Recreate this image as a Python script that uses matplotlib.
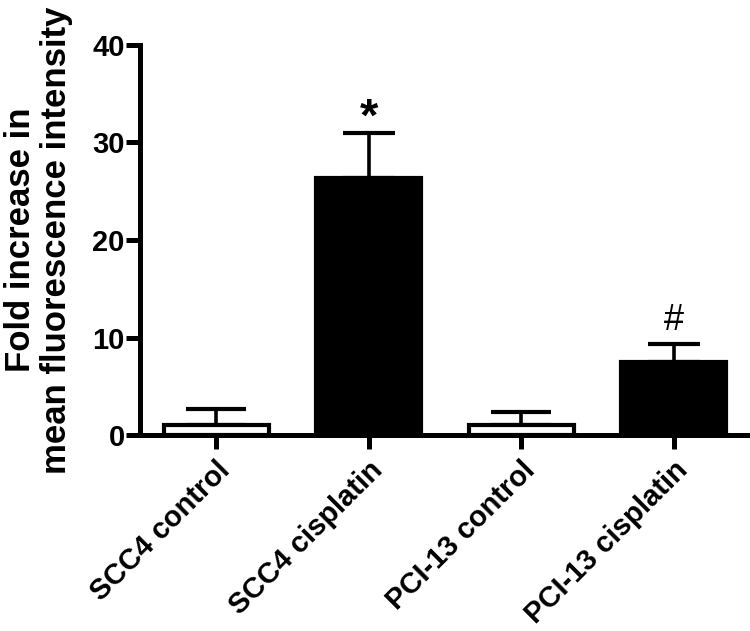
import numpy as np
import matplotlib.pyplot as plt
from matplotlib.transforms import ScaledTranslation

plt.rcParams["font.family"] = ["Liberation Sans", "DejaVu Sans"]

groups = ["SCC4 control", "SCC4 cisplatin", "PCI-13 control", "PCI-13 cisplatin"]
fold_increase = [1.0, 26.4, 1.0, 7.5]
sem_upper = [1.7, 4.6, 1.35, 1.85]
bar_colors = ["white", "black", "white", "black"]
markers = ["", "*", "", "#"]

fig = plt.figure(figsize=(7.5, 6.31), dpi=100)
ax = fig.add_axes([0.1867, 0.3106, 0.8133, 0.6181])

x = np.arange(len(groups))
ax.bar(x, fold_increase, width=0.69, color=bar_colors, edgecolor="black",
       linewidth=3, zorder=2)
for i in range(len(groups)):
    cap = 43 if i % 2 == 0 else 38
    ax.errorbar(x[i], fold_increase[i], yerr=[[0], [sem_upper[i]]], fmt="none",
                ecolor="black", elinewidth=2.6, capsize=cap / 2, capthick=3,
                zorder=1)

ax.text(x[1], fold_increase[1] + sem_upper[1] - 0.8, markers[1], ha="center",
        va="bottom", fontsize=34, fontweight="bold")
ax.text(x[3], fold_increase[3] + sem_upper[3] + 0.6, markers[3], ha="center",
        va="bottom", fontsize=26)

ax.set_xlim(-0.5, 3.5)
ax.set_ylim(0, 40)
ax.set_yticks([0, 10, 20, 30, 40])
ax.set_xticks(x)
ax.set_xticklabels(groups, rotation=45, ha="right", rotation_mode="anchor",
                   fontsize=21, fontweight="bold")
# nudge the slanted labels a little down-left like the original
shift = ScaledTranslation(-5 / 100, -5 / 100, fig.dpi_scale_trans)
for lab in ax.get_xticklabels():
    lab.set_transform(lab.get_transform() + shift)
for lab in ax.get_yticklabels():
    lab.set_fontsize(21)
    lab.set_fontweight("bold")

ax.spines["top"].set_visible(False)
ax.spines["right"].set_visible(False)
ax.spines["left"].set_linewidth(3.6)
ax.spines["bottom"].set_linewidth(3.6)
ax.tick_params(axis="y", width=3.6, length=10, pad=1)
ax.tick_params(axis="x", width=3.6, length=10, pad=5)

ax.set_ylabel("Fold increase in\nmean fluorescence intensity", fontsize=25,
              fontweight="bold", linespacing=1.1, labelpad=14)

fig.savefig("out.png", dpi=100)
